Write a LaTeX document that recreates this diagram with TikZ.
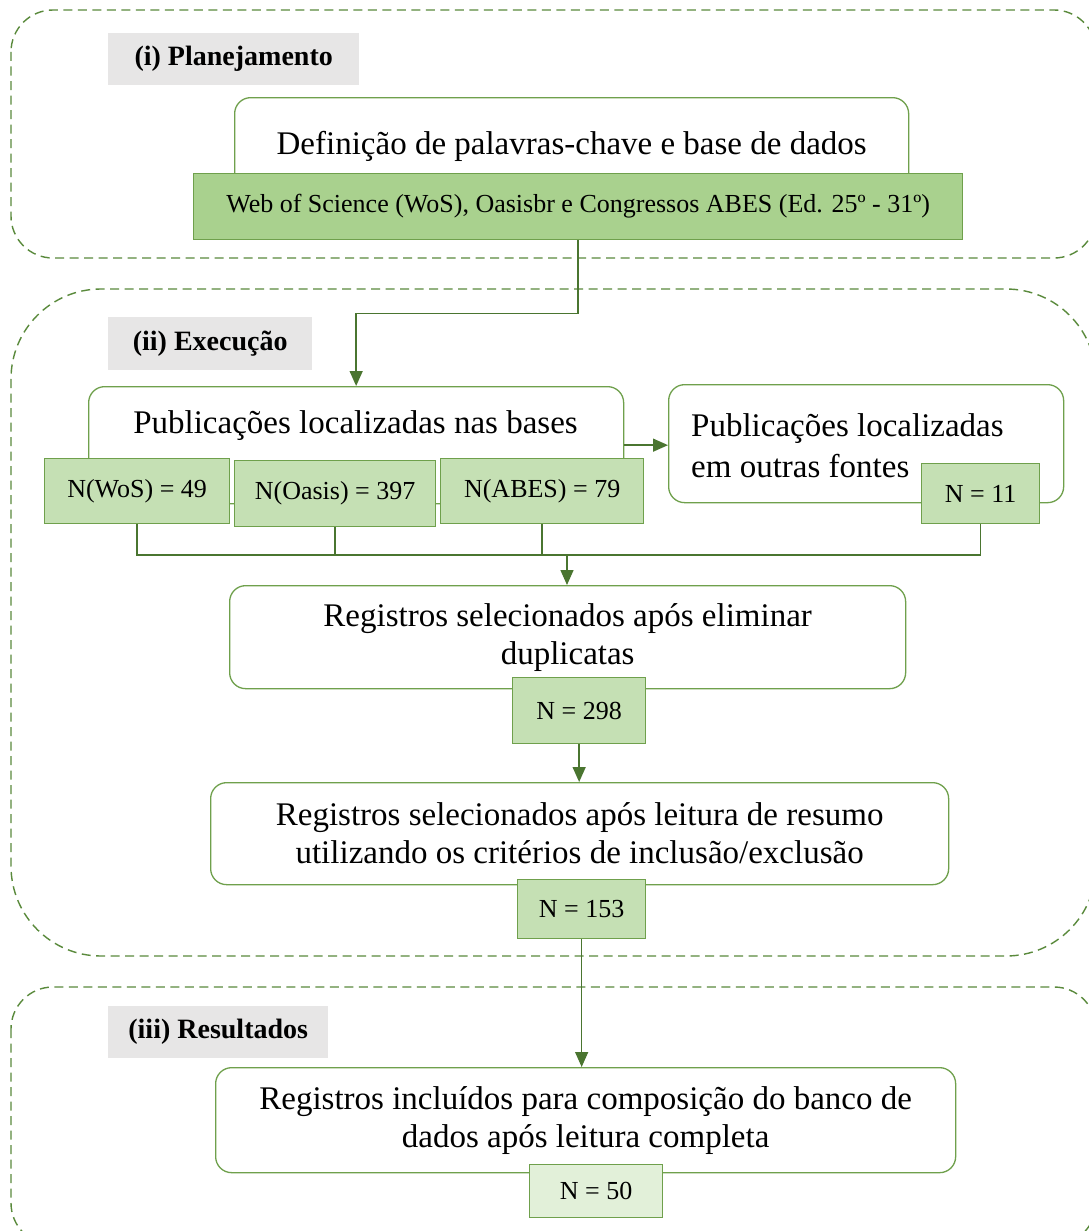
\documentclass[tikz,border=0pt]{standalone}
\usepackage{fontspec}
\setmainfont{Liberation Serif}
\usetikzlibrary{arrows.meta}

\definecolor{boxline}{HTML}{6FA04C}
\definecolor{zoneline}{HTML}{5A8A3C}
\definecolor{linkline}{HTML}{4A7530}
\definecolor{dbfill}{HTML}{A9D18E}
\definecolor{nfill}{HTML}{C5E0B4}
\definecolor{nlight}{HTML}{E2F0D9}
\definecolor{tagfill}{HTML}{E7E6E6}

\tikzset{
  zone/.style={draw=zoneline, line width=1.4pt, dash pattern=on 9pt off 5.5pt, rounded corners=#1},
  tag/.style={fill=tagfill, anchor=north west, inner sep=0pt,
    font=\fontsize{28}{32}\selectfont\bfseries},
  wbox/.style={draw=boxline, fill=white, line width=1.3pt, rounded corners=16pt,
    anchor=north west, inner sep=0pt, align=center,
    font=\fontsize{33}{38}\selectfont},
  gbox/.style={draw=boxline, fill=nfill, line width=1.3pt, anchor=north west,
    inner sep=0pt, font=\fontsize{26}{30}\selectfont},
  bigtext/.style={inner sep=0pt, font=\fontsize{33}{38}\selectfont},
  link/.style={draw=linkline, line width=1.4pt},
  arr/.style={link, -{Triangle[length=15pt,width=13pt]}}
}

\begin{document}
\begin{tikzpicture}[x=1pt,y=-1pt]
\useasboundingbox (0,0) rectangle (1089,1231);
\fill[white] (0,0) rectangle (1089,1231);

% dashed stage frames
\begin{scope}
  \clip (0,0) rectangle (1089,1231);
  \draw[zone=42] (11,10) rectangle (1096,258);
  \draw[zone=90] (11,289) rectangle (1096,956);
  \draw[zone=42] (11,987) rectangle (1096,1245);
\end{scope}

% stage tags
\node[tag, minimum width=251, minimum height=52] (tag1) at (108,33) {(i) Planejamento};
\node[tag, minimum width=204, minimum height=53] (tag2) at (108,317) {(ii) Execução};
\node[tag, minimum width=220, minimum height=52] (tag3) at (108,1006) {(iii) Resultados};

% (i) planning
\node[wbox, minimum width=674, minimum height=98] (kw) at (234,97)
  {Definição de palavras-chave e base de dados};
\node[gbox, fill=dbfill, minimum width=769, minimum height=66] (db) at (193,173)
  {Web of Science (WoS), Oasisbr e Congressos ABES (Ed. 25º - 31º)};

% (ii) execution
\node[wbox, minimum width=535, minimum height=117] (pubs) at (88,386) {};
\node[bigtext] (pubs-t) at (355.5,426) {Publicações localizadas nas bases};
\node[wbox, minimum width=395, minimum height=118] (outras) at (668,384) {};
\node[bigtext, anchor=west, align=left, font=\fontsize{33}{41}\selectfont] (outras-t) at (691,446)
  {Publicações localizadas\\em outras fontes};

\node[gbox, minimum width=185, minimum height=65] (wos) at (44,458) {N(WoS) = 49};
\node[gbox, minimum width=201, minimum height=66] (oasis) at (234,460) {N(Oasis) = 397};
\node[gbox, minimum width=203, minimum height=65] (abes) at (440,458) {N(ABES) = 79};
\node[gbox, minimum width=118, minimum height=60] (n11) at (921,463) {N = 11};

\node[wbox, minimum width=676, minimum height=103] (dup) at (229,585)
  {Registros selecionados após eliminar\\duplicatas};
\node[gbox, minimum width=133, minimum height=66] (n298) at (512,677) {N = 298};

\node[wbox, minimum width=738, minimum height=102] (sel) at (210,782)
  {Registros selecionados após leitura de resumo\\utilizando os critérios de inclusão/exclusão};
\node[gbox, minimum width=128, minimum height=59] (n153) at (517,879) {N = 153};

% (iii) results
\node[wbox, minimum width=740, minimum height=105] (inc) at (215,1067)
  {Registros incluídos para composição do banco de\\dados após leitura completa};
\node[gbox, fill=nlight, minimum width=133, minimum height=53] (n50) at (529,1164) {N = 50};

% connectors
\draw[arr] (db.south) -- ++(0,73) -| (pubs.north);
\draw[arr] (pubs.east) -- (pubs.east -| outras.west);

\coordinate (join) at (567,555);
\draw[link] (wos.south) |- (join);
\draw[link] (oasis.south) |- (join);
\draw[link] (abes.south) |- (join);
\draw[link] (n11.south) |- (join);
\draw[arr] (join) -- (join |- dup.north);

\draw[arr] (n298.south) -- (n298.south |- sel.north);
\draw[arr] (n153.south) -- (n153.south |- inc.north);
\end{tikzpicture}
\end{document}
